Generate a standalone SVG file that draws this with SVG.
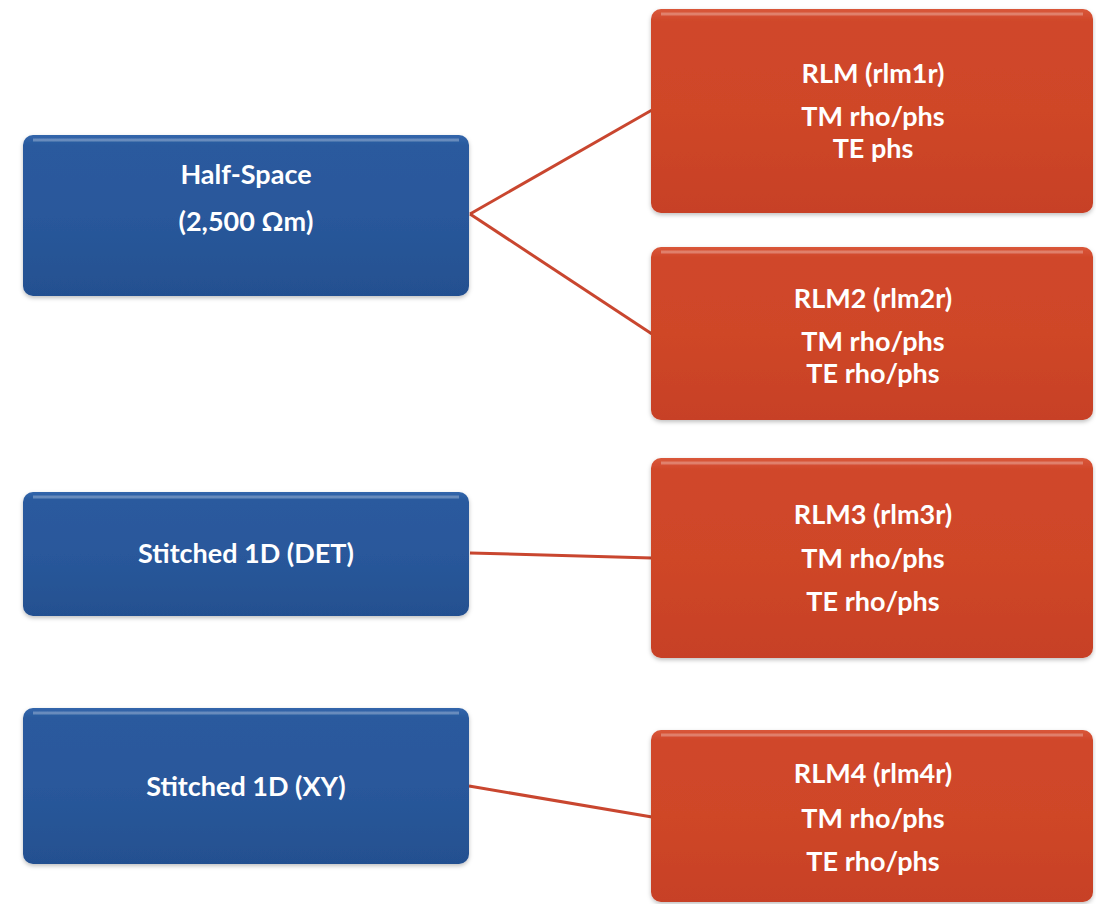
<svg xmlns="http://www.w3.org/2000/svg" width="1096" height="904" viewBox="0 0 1096 904">
<defs>
<linearGradient id="gBlue" x1="0" y1="0" x2="0" y2="1">
<stop offset="0" stop-color="#3266ab"/>
<stop offset="0.06" stop-color="#2a5a9e"/>
<stop offset="0.5" stop-color="#29589b"/>
<stop offset="1" stop-color="#245090"/>
</linearGradient>
<linearGradient id="gRed" x1="0" y1="0" x2="0" y2="1">
<stop offset="0" stop-color="#d9573a"/>
<stop offset="0.06" stop-color="#d0472a"/>
<stop offset="0.5" stop-color="#cf4628"/>
<stop offset="1" stop-color="#c74125"/>
</linearGradient>
<filter id="sh" x="-5%" y="-5%" width="110%" height="115%">
<feDropShadow dx="0" dy="2" stdDeviation="2" flood-color="#000" flood-opacity="0.25"/>
</filter>
</defs>
<style>
.blue{fill:url(#gBlue);filter:url(#sh);}
.red{fill:url(#gRed);filter:url(#sh);}
.gloss{fill:none;stroke:#ffffff;stroke-opacity:0.28;stroke-width:3;}
.t{font-family:Lato,"Liberation Sans",sans-serif;font-weight:bold;font-size:27px;fill:#ffffff;text-anchor:middle;}
.c{stroke:#c9462f;stroke-width:3;fill:none;}
</style>
<rect width="1096" height="904" fill="#ffffff"/>
<g id="connectors">
<line class="c" x1="470" y1="214" x2="652" y2="110"/>
<line class="c" x1="470" y1="214" x2="652" y2="334"/>
<line class="c" x1="470" y1="553" x2="652" y2="558"/>
<line class="c" x1="469" y1="786" x2="652" y2="817"/>
</g>
<g id="halfspace">
<rect class="blue" x="23" y="135" width="446" height="161" rx="10"/>
<line class="gloss" x1="33" y1="140" x2="459" y2="140"/>
<text class="t" x="246" y="184">Half-Space</text>
<text class="t" x="246" y="231">(2,500 Ωm)</text>
</g>
<g id="det">
<rect class="blue" x="23" y="492" width="446" height="124" rx="10"/>
<line class="gloss" x1="33" y1="497" x2="459" y2="497"/>
<text class="t" x="246" y="563">Stitched 1D (DET)</text>
</g>
<g id="xy">
<rect class="blue" x="23" y="708" width="446" height="156" rx="10"/>
<line class="gloss" x1="33" y1="713" x2="459" y2="713"/>
<text class="t" x="246" y="796">Stitched 1D (XY)</text>
</g>
<g id="rlm1">
<rect class="red" x="651" y="9" width="442" height="204" rx="10"/>
<line class="gloss" x1="661" y1="14" x2="1083" y2="14"/>
<text class="t" x="873" y="83">RLM (rlm1r)</text>
<text class="t" x="873" y="126">TM rho/phs</text>
<text class="t" x="873" y="158">TE phs</text>
</g>
<g id="rlm2">
<rect class="red" x="651" y="247" width="442" height="173" rx="10"/>
<line class="gloss" x1="661" y1="252" x2="1083" y2="252"/>
<text class="t" x="873" y="308">RLM2 (rlm2r)</text>
<text class="t" x="873" y="351">TM rho/phs</text>
<text class="t" x="873" y="383">TE rho/phs</text>
</g>
<g id="rlm3">
<rect class="red" x="651" y="458" width="442" height="200" rx="10"/>
<line class="gloss" x1="661" y1="463" x2="1083" y2="463"/>
<text class="t" x="873" y="524">RLM3 (rlm3r)</text>
<text class="t" x="873" y="568">TM rho/phs</text>
<text class="t" x="873" y="611">TE rho/phs</text>
</g>
<g id="rlm4">
<rect class="red" x="651" y="730" width="442" height="172" rx="10"/>
<line class="gloss" x1="661" y1="735" x2="1083" y2="735"/>
<text class="t" x="873" y="783">RLM4 (rlm4r)</text>
<text class="t" x="873" y="828">TM rho/phs</text>
<text class="t" x="873" y="871">TE rho/phs</text>
</g>
</svg>
